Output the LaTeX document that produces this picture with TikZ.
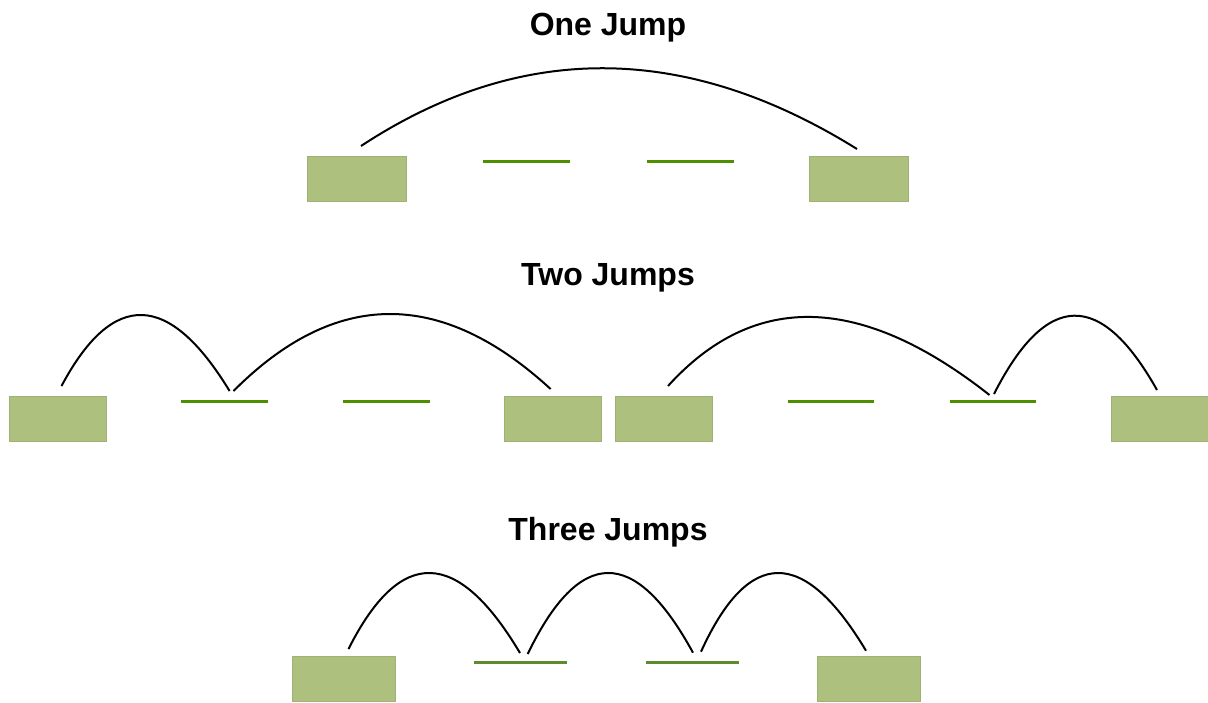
\documentclass[tikz,border=0pt]{standalone}
\usepackage{fontspec}
\setmainfont{Liberation Sans}
\usetikzlibrary{calc}
\definecolor{boxgreen}{RGB}{173,192,126}
\definecolor{linegreen}{RGB}{78,143,0}
\definecolor{linegreendark}{RGB}{94,138,48}
\tikzset{
  box/.style={rectangle, fill=boxgreen, draw=boxgreen!92!black, line width=0.4pt, inner sep=0pt, outer sep=0pt, minimum width=#1, minimum height=45pt},
  box/.default=98pt,
  title/.style={anchor=base, font=\fontsize{32}{38}\selectfont\bfseries, inner sep=0pt},
  gline/.style={line width=2.2pt, linegreen},
  glinedark/.style={line width=2.6pt, linegreendark},
  jumparc/.style={line width=2pt, black},
}
\newcommand{\jumpcurve}[3]{%
  \draw[jumparc] (#1) .. controls ($(#1)!0.6667!(#3)$) and ($(#2)!0.6667!(#3)$) .. (#2);}
\begin{document}
\begin{tikzpicture}[x=1pt,y=-1pt]
\useasboundingbox (0,0) rectangle (1208,702);

% ---------- One Jump ----------
\node[title] (t1) at (608,35.5) {One Jump};
\node[box=99pt] (a1) at (357,178.5) {};
\node[box=99pt] (a2) at (859,178.5) {};
\coordinate (a1l1) at (483,161.5); \coordinate (a1l2) at (570,161.5);
\coordinate (a2l1) at (647,161.5); \coordinate (a2l2) at (734,161.5);
\draw[gline] (a1l1) -- (a1l2);
\draw[gline] (a2l1) -- (a2l2);
\coordinate (as) at (361,146); \coordinate (ae) at (857,149); \coordinate (aq) at (600,-11);
\jumpcurve{as}{ae}{aq}

% ---------- Two Jumps ----------
\node[title] (t2) at (608,285.5) {Two Jumps};
% left group
\node[box=97pt] (b1) at (57.5,418.5) {};
\node[box=97pt] (b2) at (552.5,418.5) {};
\coordinate (b1l1) at (181,401.5); \coordinate (b1l2) at (268,401.5);
\coordinate (b2l1) at (343,401.5); \coordinate (b2l2) at (430,401.5);
\draw[gline] (b1l1) -- (b1l2);
\draw[gline] (b2l1) -- (b2l2);
\coordinate (bs1) at (61.5,386); \coordinate (be1) at (229.6,391); \coordinate (bq1) at (138.5,241.5);
\coordinate (bs2) at (233.5,391); \coordinate (be2) at (550.6,389); \coordinate (bq2) at (386,238);
\jumpcurve{bs1}{be1}{bq1}
\jumpcurve{bs2}{be2}{bq2}
% right group
\node[box=97pt] (c1) at (663.5,418.5) {};
\node[box=97pt] (c2) at (1159.5,418.5) {};
\coordinate (c1l1) at (788,401.5); \coordinate (c1l2) at (874,401.5);
\coordinate (c2l1) at (950,401.5); \coordinate (c2l2) at (1036,401.5);
\draw[gline] (c1l1) -- (c1l2);
\draw[gline] (c2l1) -- (c2l2);
\coordinate (cs1) at (668,386); \coordinate (ce1) at (989.5,395); \coordinate (cq1) at (797,243.5);
\coordinate (cs2) at (994,394); \coordinate (ce2) at (1157,390); \coordinate (cq2) at (1072.5,239.4);
\jumpcurve{cs1}{ce1}{cq1}
\jumpcurve{cs2}{ce2}{cq2}

% ---------- Three Jumps ----------
\node[title] (t3) at (608,540.5) {Three Jumps};
\node[box=103pt] (d1) at (344,679) {};
\node[box=103pt] (d2) at (868.5,679) {};
\coordinate (d1l1) at (474,662.5); \coordinate (d1l2) at (567,662.5);
\coordinate (d2l1) at (646,662.5); \coordinate (d2l2) at (739,662.5);
\draw[glinedark] (d1l1) -- (d1l2);
\draw[glinedark] (d2l1) -- (d2l2);
\coordinate (ds1) at (348.5,649); \coordinate (de1) at (520,653); \coordinate (dq1) at (426,495);
\coordinate (ds2) at (527.7,654); \coordinate (de2) at (693,652.7); \coordinate (dq2) at (605.6,492.6);
\coordinate (ds3) at (701,651.7); \coordinate (de3) at (866,650.7); \coordinate (dq3) at (772.5,494.8);
\jumpcurve{ds1}{de1}{dq1}
\jumpcurve{ds2}{de2}{dq2}
\jumpcurve{ds3}{de3}{dq3}
\end{tikzpicture}
\end{document}
